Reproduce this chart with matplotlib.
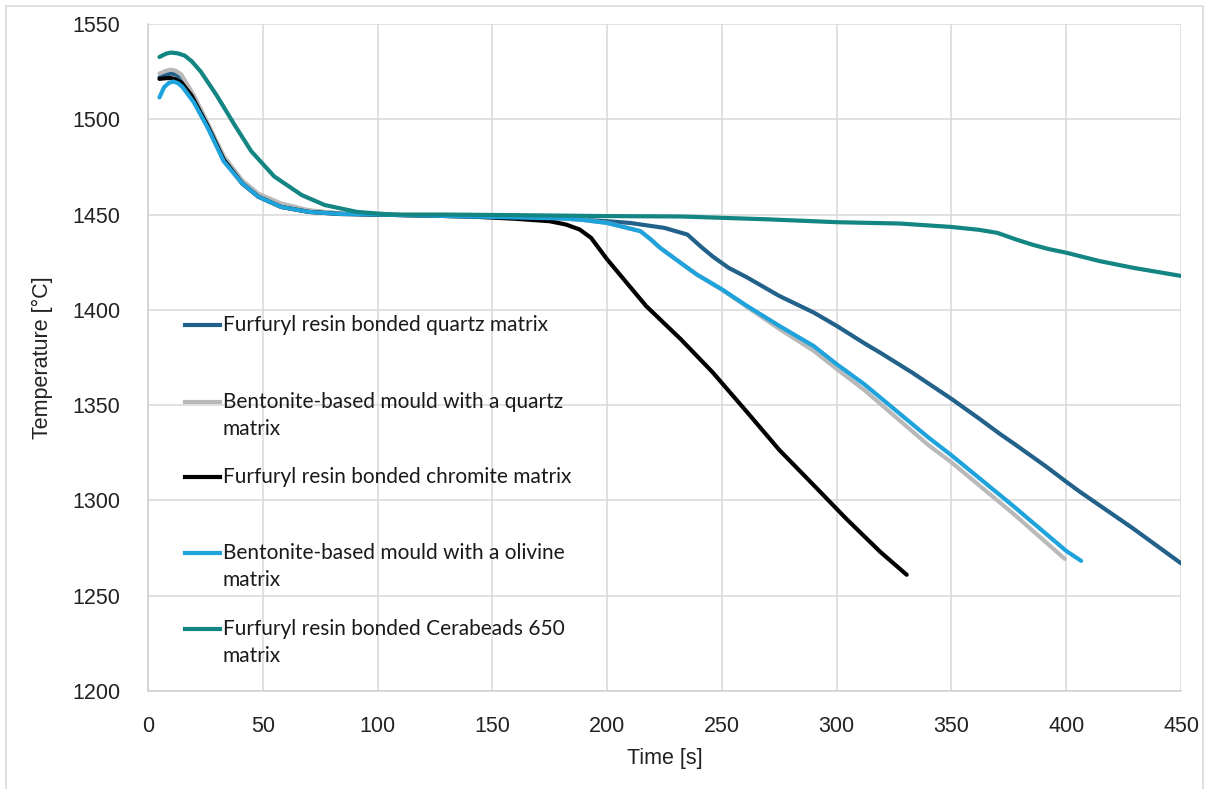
import matplotlib.pyplot as plt
from matplotlib.patches import Rectangle

# 曲線データ
quartz_t = [5, 8, 10, 12, 15, 20, 26, 33, 41, 48, 58, 70, 84, 100, 120, 140, 160, 180, 188, 200, 210, 225, 235,
            241, 246, 253, 261, 275, 290, 300, 312, 319, 333, 350, 362, 371, 377, 391, 400, 406, 429, 450]
quartz_T = [1522, 1523.5, 1524, 1523.5, 1521.5, 1512, 1497, 1480, 1467, 1460, 1455, 1452, 1450.5, 1450, 1449.5, 1449, 1448.5, 1448, 1447.4, 1446.5, 1445.6, 1443, 1439.5,
            1433, 1428, 1422, 1417, 1407.3, 1398.6, 1391.6, 1382.5, 1377.5, 1367, 1353.3, 1343, 1335, 1330, 1318, 1309.8, 1304.5, 1285.4, 1267]

bent_quartz_t = [5, 8, 10, 12, 14.5, 20, 26, 33, 41, 48, 58, 70, 84, 100, 120, 140, 160, 180, 188, 200, 214.5, 219, 223, 232,
                 239, 250, 261, 275, 290, 300, 312, 325, 340, 350, 377, 399.4]
bent_quartz_T = [1524, 1525.5, 1526, 1525.5, 1523.5, 1512.4, 1498, 1480.6, 1468, 1461, 1455.8, 1452.3, 1450.5, 1450, 1449.5, 1449, 1448.5, 1448, 1447.4, 1445.6, 1441.3, 1437, 1432.6, 1424.7,
                 1418.6, 1410.5, 1401.5, 1390, 1378.5, 1369, 1358, 1344.5, 1329, 1320, 1293, 1269.3]

chromite_t = [5, 8, 10, 12, 14.5, 19, 26, 33, 41, 48, 58, 70, 84, 100, 120, 140, 160, 175, 182, 188, 193, 200, 217,
              232, 246, 261, 275, 290, 304, 319, 330.5]
chromite_T = [1521.2, 1521.6, 1521.6, 1521, 1519.4, 1512.4, 1496.5, 1478.8, 1466.4, 1459.4, 1454, 1451.4, 1450.3, 1450, 1449.5, 1449, 1447.8, 1446.5, 1444.8, 1442.2, 1437.8, 1426.5, 1402,
              1384.7, 1367.2, 1346.3, 1326.5, 1308, 1290.6, 1273, 1261]

olivine_t = [5, 7, 9, 11, 13, 15, 20, 26, 33, 41, 48, 58, 70, 84, 100, 120, 140, 160, 180, 188, 200, 214.5, 219, 223, 232,
             239, 250, 261, 275, 290, 300, 312, 325, 340, 350, 377, 400, 406.5]
olivine_T = [1511.5, 1516.8, 1519, 1519.8, 1519, 1517, 1508.8, 1495.6, 1477.9, 1466.4, 1459.4, 1454, 1451.4, 1450.3, 1450, 1449.5, 1449, 1448.5, 1448, 1447.4, 1445.6, 1441.3, 1437, 1432.6, 1424.7,
             1418.6, 1410.8, 1402, 1391.6, 1381, 1371.5, 1361, 1348, 1333, 1323.7, 1297, 1273.5, 1268.3]

cerabeads_t = [5, 8, 10, 13, 16, 19, 23, 30, 38, 45, 55, 67, 77, 91, 106, 130, 160, 200, 232, 270, 300, 327.5, 350,
               362, 370, 378, 385, 392, 400, 414.5, 429, 450]
cerabeads_T = [1532.7, 1534.5, 1535, 1534.6, 1533.4, 1530.5, 1525, 1512.4, 1496.5, 1483.2, 1470, 1460.2, 1455, 1451.4, 1450, 1450, 1449.7, 1449.2, 1449, 1447.5, 1446, 1445.3, 1443.5,
               1442, 1440.4, 1437, 1434.3, 1432, 1430, 1425.6, 1422.1, 1417.8]

labels = ["Furfuryl resin bonded quartz matrix",
          "Bentonite-based mould with a quartz\nmatrix",
          "Furfuryl resin bonded chromite matrix",
          "Bentonite-based mould with a olivine\nmatrix",
          "Furfuryl resin bonded Cerabeads 650\nmatrix"]
colors = ["#22628a", "#b9b9b9", "#000000", "#1ea3dc", "#138582"]

x_ticks = [0, 50, 100, 150, 200, 250, 300, 350, 400, 450]
y_ticks = [1200, 1250, 1300, 1350, 1400, 1450, 1500, 1550]

plt.rcParams['font.family'] = ['Liberation Sans', 'DejaVu Sans']

fig = plt.figure(figsize=(12.1, 7.89), dpi=100)
ax = fig.add_axes([148 / 1210, 1 - 691 / 789, 1033 / 1210, 667 / 789])

series = [(quartz_t, quartz_T), (bent_quartz_t, bent_quartz_T), (chromite_t, chromite_T),
          (olivine_t, olivine_T), (cerabeads_t, cerabeads_T)]
for (t, T), c in zip(series, colors):
    ax.plot(t, T, color=c, lw=3.0, solid_capstyle='round', solid_joinstyle='round', zorder=3)

ax.set_xlim(0, 450)
ax.set_ylim(1200, 1550)
ax.set_xticks(x_ticks)
ax.set_yticks(y_ticks)
ax.grid(True, color='#d9d9d9', lw=1.1, zorder=0)
ax.tick_params(length=0, labelsize=15.5, colors='#222222')
ax.tick_params(axis='y', pad=20)
ax.tick_params(axis='x', pad=18)
for s in ['top', 'right']:
    ax.spines[s].set_visible(False)
for s in ['left', 'bottom']:
    ax.spines[s].set_color('#cfcfcf')
    ax.spines[s].set_linewidth(1.1)

ax.set_xlabel("Time [s]", fontsize=15.5, color='#222222', labelpad=8)
ax.set_ylabel("Temperature [°C]", fontsize=15.5, color='#222222', labelpad=14)

# 凡例 (手動配置)
leg_y = [325, 402, 477, 553, 629]
H = 667
for lab, c, yp in zip(labels, colors, leg_y):
    yf = (691 - yp) / H
    ax.plot([37 / 1033, 72 / 1033], [yf, yf], transform=ax.transAxes, color=c, lw=3.0, clip_on=False, zorder=4)
    lines = lab.split("\n")
    for k, ln in enumerate(lines):
        ax.text(75 / 1033, yf - k * 27 / H, ln, transform=ax.transAxes, fontsize=15,
                family=['Lato', 'DejaVu Sans'], color='#1a1a1a', va='center', ha='left', zorder=4)

fig.patches.append(Rectangle((6 / 1210, -0.02), 1197 / 1210, 1 - 6 / 789 + 0.02, transform=fig.transFigure,
                             fill=False, edgecolor='#d9d9d9', lw=1.2))

fig.savefig("out.png", dpi=100)
